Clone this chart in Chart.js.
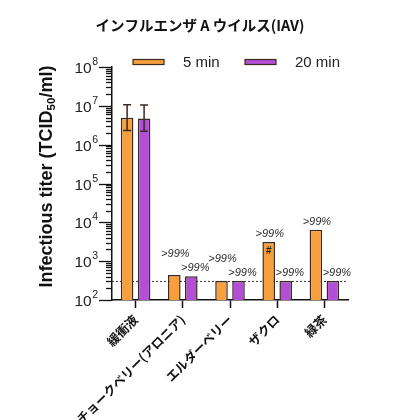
<!DOCTYPE html>
<html><head><meta charset="utf-8">
<script src="https://cdn.jsdelivr.net/npm/chart.js@4.4.1/dist/chart.umd.min.js"></script>
<style>html,body{margin:0;padding:0;background:#fff;}</style>
</head><body>
<canvas id="c" width="396" height="420"></canvas>
<script>
const titleText = 'インフルエンザ A ウイルス(IAV)';
const categories = ['緩衝液', 'チョークベリー(アロニア)', 'エルダーベリー', 'ザクロ', '緑茶'];
const seriesNames = ['5 min', '20 min'];
const values5 = [4.9e6, 441, 310, 3125, 6480];
const values20 = [4.7e6, 408, 310, 310, 310];
const errHigh5 = [1.07e7, null, null, null, null];
const errLow5 = [2.3e6, null, null, null, null];
const errHigh20 = [1.05e7, null, null, null, null];
const errLow20 = [2.2e6, null, null, null, null];
const pctLabels5 = ['', '>99%', '>99%', '>99%', '>99%'];
const pctLabels20 = ['', '>99%', '>99%', '>99%', '>99%'];
const marks5 = ['', '', '', '#', ''];
const detectionLimit = 310;
const yTickExponents = [2, 3, 4, 5, 6, 7, 8];
const yAxisTitle = ['Infectious titer (TCID', '50', '/ml)'];

const ORANGE = '#F8A03E', PURPLE = '#B34FD6', EDGE = '#3a2a22', INK = '#111';

const overlay = {
  id: 'overlay',
  beforeDatasetsDraw(chart) {
    const {ctx, chartArea: a, scales: {y}} = chart;
    const py = y.getPixelForValue(detectionLimit);
    ctx.save();
    ctx.strokeStyle = '#333'; ctx.lineWidth = 1; ctx.setLineDash([2, 2]);
    ctx.beginPath(); ctx.moveTo(a.left, py + 0.5); ctx.lineTo(a.right, py + 0.5); ctx.stroke();
    ctx.restore();
  },
  afterDatasetsDraw(chart) {
    const {ctx, scales: {y}} = chart;
    const errs = [[errLow5, errHigh5], [errLow20, errHigh20]];
    ctx.save();
    ctx.strokeStyle = EDGE; ctx.lineWidth = 1.5;
    errs.forEach(([lo, hi], di) => {
      const meta = chart.getDatasetMeta(di);
      lo.forEach((l, i) => {
        if (l == null) return;
        const x = meta.data[i].x;
        const yl = y.getPixelForValue(l), yh = y.getPixelForValue(hi[i]);
        ctx.beginPath();
        ctx.moveTo(x, yl); ctx.lineTo(x, yh);
        ctx.moveTo(x - 4, yl); ctx.lineTo(x + 4, yl);
        ctx.moveTo(x - 4, yh); ctx.lineTo(x + 4, yh);
        ctx.stroke();
      });
    });
    const m0 = chart.getDatasetMeta(0), m1 = chart.getDatasetMeta(1);
    ctx.fillStyle = '#2a2a2a';
    ctx.font = 'italic 11px "Liberation Sans", Arial, sans-serif';
    ctx.textAlign = 'center'; ctx.textBaseline = 'middle';
    categories.forEach((c, i) => {
      const b0 = m0.data[i], b1 = m1.data[i];
      const ly1 = b1.y - 8;
      if (pctLabels20[i]) ctx.fillText(pctLabels20[i], b1.x + 4, ly1);
      if (pctLabels5[i]) ctx.fillText(pctLabels5[i], b0.x + 1, Math.min(b0.y - 8, ly1 - 14));
    });
    ctx.font = 'bold 10px "Liberation Sans", Arial, sans-serif';
    ctx.fillStyle = '#222';
    marks5.forEach((mk, i) => { if (mk) ctx.fillText(mk, m0.data[i].x, m0.data[i].y + 9); });
    ctx.restore();
  },
  afterDraw(chart) {
    const {ctx, chartArea: a, scales: {y}} = chart;
    ctx.save();
    // title
    ctx.fillStyle = INK;
    ctx.font = 'bold 14.5px "Noto Sans CJK JP", sans-serif';
    ctx.textAlign = 'center'; ctx.textBaseline = 'middle';
    ctx.fillText(titleText, 200, 25);
    // y ticks (major + minor) and labels
    ctx.strokeStyle = INK; ctx.lineWidth = 1.3;
    yTickExponents.forEach((e, idx) => {
      const p = Math.round(y.getPixelForValue(Math.pow(10, e))) + 0.5;
      ctx.beginPath(); ctx.moveTo(a.left - 13, p); ctx.lineTo(a.left, p); ctx.stroke();
      if (idx < yTickExponents.length - 1) {
        for (let k = 2; k <= 9; k++) {
          const q = Math.round(y.getPixelForValue(k * Math.pow(10, e))) + 0.5;
          ctx.beginPath(); ctx.moveTo(a.left - 6, q); ctx.lineTo(a.left, q); ctx.stroke();
        }
      }
      ctx.fillStyle = '#222';
      ctx.textBaseline = 'alphabetic';
      ctx.font = '10.5px "Liberation Sans", Arial, sans-serif';
      ctx.textAlign = 'right';
      const supW = ctx.measureText(String(e)).width;
      ctx.fillText(String(e), a.left - 14, p - 2.5);
      ctx.font = '15.5px "Liberation Sans", Arial, sans-serif';
      ctx.fillText('10', a.left - 14 - supW - 0.5, p + 5.5);
    });
    // y axis title with subscript
    ctx.translate(47, (a.top + a.bottom) / 2 - 7);
    ctx.rotate(-Math.PI / 2);
    ctx.fillStyle = INK;
    ctx.textBaseline = 'middle'; ctx.textAlign = 'left';
    const big = 'bold 18px "Liberation Sans", Arial, sans-serif';
    const small = 'bold 11.5px "Liberation Sans", Arial, sans-serif';
    ctx.font = big; const w1 = ctx.measureText(yAxisTitle[0]).width, w3 = ctx.measureText(yAxisTitle[2]).width;
    ctx.font = small; const w2 = ctx.measureText(yAxisTitle[1]).width;
    let x0 = -(w1 + w2 + w3) / 2;
    ctx.font = big; ctx.fillText(yAxisTitle[0], x0, 0);
    ctx.font = small; ctx.fillText(yAxisTitle[1], x0 + w1, 5);
    ctx.font = big; ctx.fillText(yAxisTitle[2], x0 + w1 + w2, 0);
    ctx.restore();
    // legend
    ctx.save();
    const items = [[133, 183], [245, 295]];
    chart.data.datasets.forEach((ds, i) => {
      const [bx, tx] = items[i];
      ctx.fillStyle = ds.backgroundColor; ctx.strokeStyle = EDGE; ctx.lineWidth = 1.2;
      ctx.fillRect(bx, 59.5, 31, 5); ctx.strokeRect(bx, 59.5, 31, 5);
      ctx.fillStyle = '#222'; ctx.font = '15px "Liberation Sans", Arial, sans-serif';
      ctx.textAlign = 'left'; ctx.textBaseline = 'middle';
      ctx.fillText(ds.label, tx, 62.5);
    });
    ctx.restore();
  }
};

new Chart(document.getElementById('c'), {
  type: 'bar',
  data: {
    labels: categories,
    datasets: [
      {label: seriesNames[0], data: values5, backgroundColor: ORANGE, borderColor: EDGE, borderWidth: 1.5},
      {label: seriesNames[1], data: values20, backgroundColor: PURPLE, borderColor: EDGE, borderWidth: 1.5}
    ]
  },
  options: {
    responsive: false,
    animation: false,
    devicePixelRatio: 1,
    categoryPercentage: 0.72,
    barPercentage: 0.74,
    layout: {padding: {left: 0, right: 48, top: 67, bottom: 0}},
    plugins: {
      legend: {display: false},
      tooltip: {enabled: false},
      title: {display: false}
    },
    scales: {
      x: {
        grid: {display: true, drawOnChartArea: false, offset: false, tickLength: 8, tickColor: INK, tickWidth: 1.5},
        border: {color: INK, width: 1.5},
        ticks: {minRotation: 45, maxRotation: 45, autoSkip: false, padding: 4, color: INK,
          font: {family: '"Noto Sans CJK JP"', weight: 'bold', size: 12.5}},
        afterFit(s) { s.height = 120; }
      },
      y: {
        type: 'logarithmic', min: 100, max: 1e8,
        grid: {display: false},
        border: {color: INK, width: 1.5},
        ticks: {display: false},
        afterFit(s) { s.width = 112; }
      }
    }
  },
  plugins: [overlay]
});
</script>
</body></html>
